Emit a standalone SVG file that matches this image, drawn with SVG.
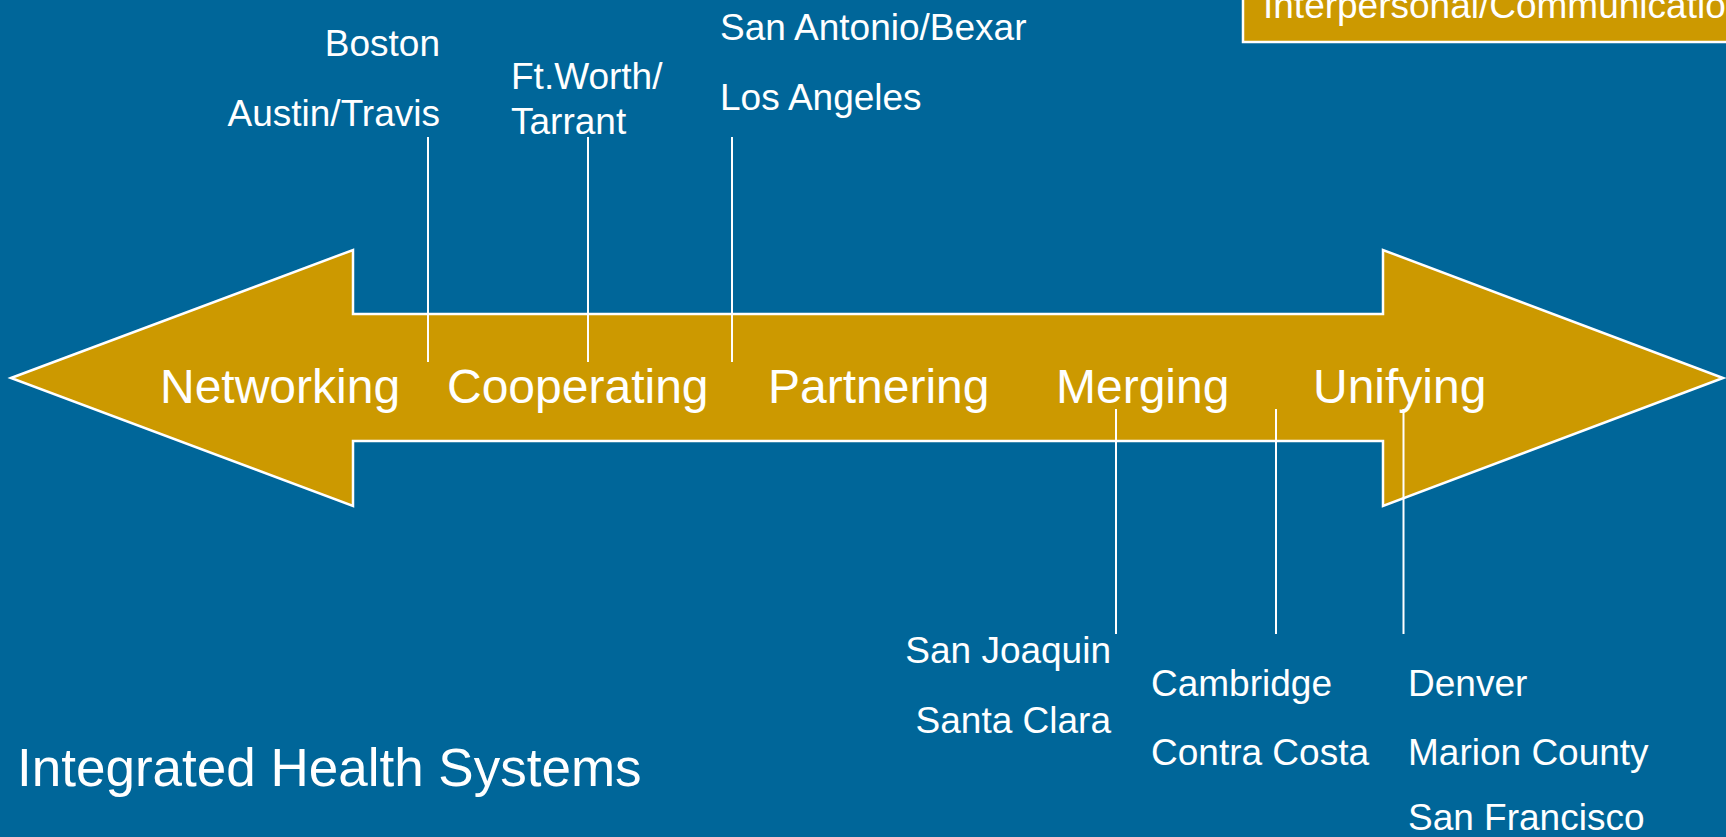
<svg xmlns="http://www.w3.org/2000/svg" width="1726" height="837" viewBox="0 0 1726 837">
<style>
  .bg { fill: #006699; }
  .arrow { fill: #CC9900; stroke: #FFFFFF; stroke-width: 2.5; stroke-linejoin: miter; }
  .box { fill: #CC9900; stroke: #FFFFFF; stroke-width: 2.5; }
  .stage { font-family: "Liberation Sans", Arial, sans-serif; font-size: 48px; fill: #FFFFFF; }
  .city { font-family: "Liberation Sans", Arial, sans-serif; font-size: 37px; fill: #FFFFFF; }
  .title { font-family: "Liberation Sans", Arial, sans-serif; font-size: 53px; fill: #FFFFFF; }
  .conn line { stroke: #FFFFFF; stroke-width: 2; }
</style>
<rect class="bg" x="0" y="0" width="1726" height="837"/>
<g id="legend-box">
  <rect class="box" x="1243" y="-20" width="500" height="62"/>
  <text class="city" x="1263" y="18">Interpersonal/Communication</text>
</g>
<g id="continuum-arrow">
  <polygon class="arrow" points="11,378 353,250 353,314 1383,314 1383,250 1723,378 1383,506 1383,441 353,441 353,506"/>
  <text class="stage" x="160" y="403">Networking</text>
  <text class="stage" x="447" y="403">Cooperating</text>
  <text class="stage" x="768" y="403">Partnering</text>
  <text class="stage" x="1056" y="403">Merging</text>
  <text class="stage" x="1313" y="403">Unifying</text>
</g>
<g id="connectors" class="conn">
  <line x1="428" y1="137" x2="428" y2="362"/>
  <line x1="588" y1="137" x2="588" y2="362"/>
  <line x1="732" y1="137" x2="732" y2="362"/>
  <line x1="1116" y1="409" x2="1116" y2="634"/>
  <line x1="1276" y1="409" x2="1276" y2="634"/>
  <line x1="1403.5" y1="409" x2="1403.5" y2="634"/>
</g>
<g id="networking-cities">
  <text class="city" x="440" y="56" text-anchor="end">Boston</text>
  <text class="city" x="440" y="126" text-anchor="end">Austin/Travis</text>
</g>
<g id="cooperating-cities">
  <text class="city" x="511" y="89">Ft.Worth/</text>
  <text class="city" x="511" y="134">Tarrant</text>
</g>
<g id="partnering-cities">
  <text class="city" x="720" y="40">San Antonio/Bexar</text>
  <text class="city" x="720" y="110">Los Angeles</text>
</g>
<g id="merging-cities">
  <text class="city" x="1111" y="663" text-anchor="end">San Joaquin</text>
  <text class="city" x="1111" y="733" text-anchor="end">Santa Clara</text>
</g>
<g id="merging-unifying-cities">
  <text class="city" x="1151" y="696">Cambridge</text>
  <text class="city" x="1151" y="765">Contra Costa</text>
</g>
<g id="unifying-cities">
  <text class="city" x="1408" y="696">Denver</text>
  <text class="city" x="1408" y="765">Marion County</text>
  <text class="city" x="1408" y="830">San Francisco</text>
</g>
<g id="title">
  <text class="title" x="17" y="786">Integrated Health Systems</text>
</g>
</svg>
